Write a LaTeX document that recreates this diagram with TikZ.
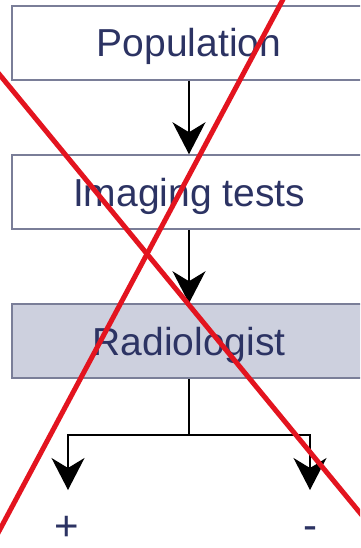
\documentclass[tikz,border=0pt]{standalone}
\usepackage{fontspec}
\setmainfont{Liberation Sans}
\usetikzlibrary{arrows.meta}

\definecolor{boxline}{HTML}{7A7E98}
\definecolor{boxtext}{HTML}{2C3363}
\definecolor{boxfill}{HTML}{CDD0DE}
\definecolor{crossred}{HTML}{E3141F}

\tikzset{
  stagebox/.style={draw=boxline, line width=1.5pt, fill=white, text=boxtext,
    minimum width=354pt, minimum height=74pt, inner sep=0pt,
    text height=28pt, text depth=0pt,
    font=\fontsize{39}{42}\selectfont},
  flowarrow/.style={line width=1.3pt, -{Stealth[length=32pt,width=33pt,inset=10pt]}},
  resultlabel/.style={text=boxtext, inner sep=0pt, anchor=base,
    font=\fontsize{42}{44}\selectfont}
}

\begin{document}
\begin{tikzpicture}[x=1pt,y=-1pt]
\useasboundingbox (0,0) rectangle (360,548);
\clip (0,0) rectangle (360,548);
\fill[white] (0,0) rectangle (360,548);

\node [stagebox] (population) at (189,43) {Population};
\node [stagebox] (imaging) at (189,192) {Imaging tests};
\node [stagebox, fill=boxfill] (radiologist) at (189,341) {Radiologist};

\draw [flowarrow] (population) -- (imaging);
\draw [flowarrow] (imaging) -- (radiologist);

\coordinate (fork) at (189,435);
\coordinate (posend) at (68,490);
\coordinate (negend) at (310,490);
\draw [line width=1.3pt] (radiologist) -- (fork);
\draw [flowarrow] (fork) -| (posend);
\draw [flowarrow] (fork) -| (negend);

\node [resultlabel] (positive) at (67,540) {+};
\node [resultlabel] (negative) at (310,539) {-};

\draw [crossred, line width=5pt] (-10,63) -- (370,525);
\draw [crossred, line width=5pt] (288,-10) -- (-10,548);
\end{tikzpicture}
\end{document}
